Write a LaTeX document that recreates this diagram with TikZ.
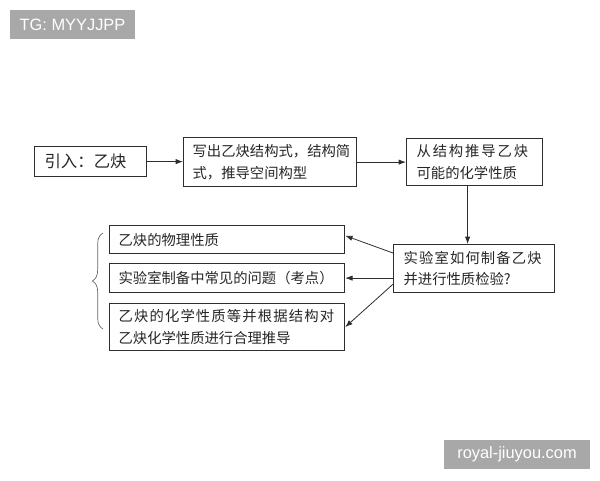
\documentclass[tikz,border=0pt]{standalone}
\usepackage{fontspec}
\setmainfont{Noto Sans CJK SC}
\newfontfamily\wmfont{Liberation Sans}
\usetikzlibrary{arrows.meta,decorations.pathreplacing}
\definecolor{wmgray}{RGB}{168,168,168}
\definecolor{linegray}{RGB}{45,45,45}
\newcommand{\spaced}[2]{{\addfontfeatures{LetterSpace=#1}#2}}

\begin{document}
\begin{tikzpicture}[x=0.75pt,y=-0.75pt,
  box/.style={draw=linegray,line width=0.9pt,anchor=north west,align=left,inner xsep=6.75pt,inner ysep=0pt,font=\fontsize{10.75}{16}\selectfont,text=black!85},
  arr/.style={-{Latex[length=5.5pt,width=4pt]},draw=linegray,line width=0.6pt},
  wm/.style={fill=wmgray,text=white,font=\wmfont\fontsize{12.3}{14}\selectfont,inner sep=0pt}]

\useasboundingbox (0,0) rectangle (600,480);

% nodes
\node (intro) [box,text width=69pt,minimum height=22.5pt,inner xsep=7.5pt,font=\fontsize{12.3}{16}\selectfont] at (34,146) {引入：乙炔};
\node (formula) [box,text width=116.25pt,minimum height=36.75pt] at (183,137) {写出乙炔结构式，结构简\\式，推导空间构型};
\node (predict) [box,text width=87pt,minimum height=35.25pt,inner xsep=7.5pt] at (406,138) {\spaced{13}{从结构推导乙炔}\\可能的化学性质};
\node (lab) [box,text width=105.75pt,minimum height=36pt,inner xsep=7.5pt] at (393,244) {\spaced{8}{实验室如何制备乙炔}\\并进行性质检验?};
\node (phys) [box,text width=162.75pt,minimum height=21pt] at (109,225) {乙炔的物理性质};
\node (prob) [box,text width=162.75pt,minimum height=21.75pt] at (109,263) {实验室制备中常见的问题（考点）};
\node (chem) [box,text width=162.75pt,minimum height=35.25pt] at (109,303) {\spaced{8}{乙炔的化学性质等并根据结构对}\\乙炔化学性质进行合理推导};

% watermarks
\node (tg) [wm,minimum width=93.75pt,minimum height=21.75pt] at (72.5,24.5) {TG: MYYJJPP};
\node (site) [wm,minimum width=109.5pt,minimum height=21.75pt] at (517,454.5) {royal-jiuyou.com};

% brace
\coordinate (bracebot) at (103,329);
\coordinate (bracetop) at (103,233);
\draw[decorate,decoration={brace,amplitude=8pt},draw=black!60,line width=0.5pt] (bracebot) -- (bracetop);

% arrows
\draw[arr] (intro.east) -- (intro.east -| formula.west);
\draw[arr] (formula.east) -- (formula.east -| predict.west);
\draw[arr] ([xshift=-5.25pt]predict.south) -- ([xshift=-5.25pt]predict.south |- lab.north);
\draw[arr] ([yshift=-6.75pt]lab.north west) -- ([yshift=-8pt]phys.north east);
\draw[arr] (prob.east -| lab.west) -- (prob.east);
\draw[arr] ([yshift=6.75pt]lab.south west) -- (chem.east);
\end{tikzpicture}
\end{document}
